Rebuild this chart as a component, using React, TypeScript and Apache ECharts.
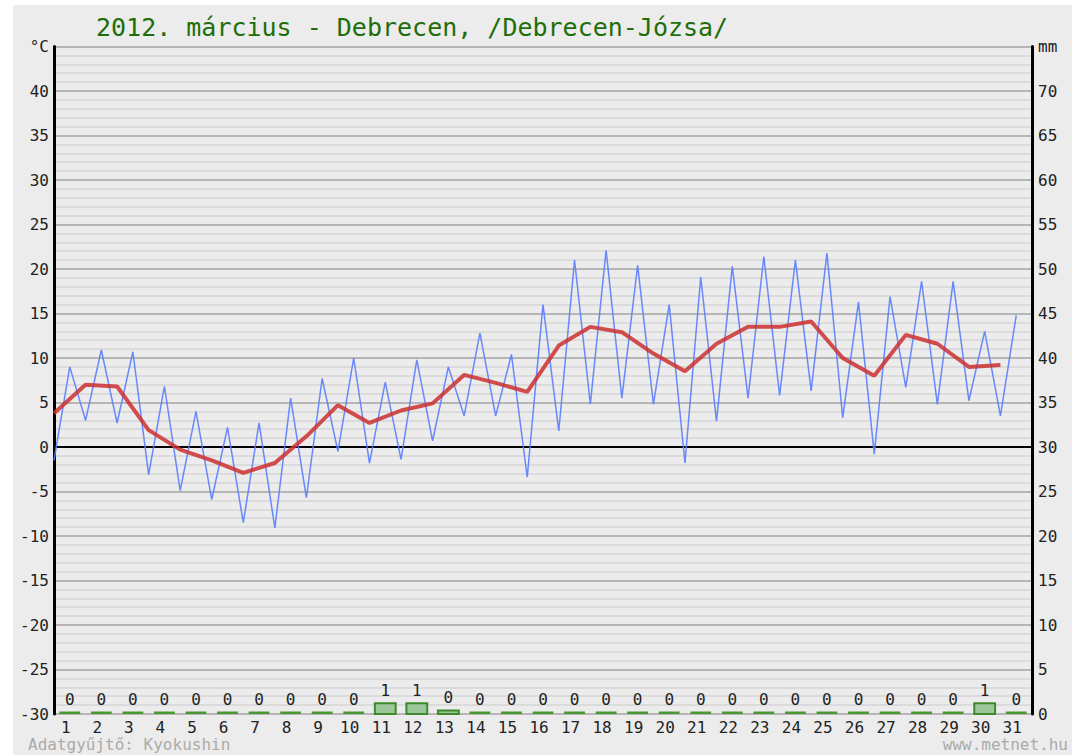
import React, { useEffect, useRef } from "react";
import * as echarts from "echarts";

const dayLabels = ["1","2","3","4","5","6","7","8","9","10","11","12","13","14","15","16","17","18","19","20","21","22","23","24","25","26","27","28","29","30","31"];
// daily minimum (plotted at day start) and maximum (plotted at midday), °C
const dailyMin = [-1.5,3.0,2.7,-3.1,-4.9,-5.9,-8.5,-9.1,-5.7,-0.5,-1.8,-1.4,0.7,3.5,3.5,-3.4,1.8,4.8,5.5,4.8,-1.8,2.9,5.5,5.8,6.3,3.3,-0.8,6.7,4.8,5.2,3.5];
const dailyMax = [9.0,10.9,10.7,6.8,4.0,2.2,2.7,5.5,7.7,10.0,7.3,9.8,9.0,12.8,10.4,16.0,21.0,22.1,20.4,16.0,19.1,20.3,21.4,21.0,21.8,16.3,16.9,18.6,18.6,13.0,14.8];
// daily mean temperature, °C
const dailyMean = [3.8,7.0,6.8,1.9,-0.3,-1.5,-2.9,-1.8,1.2,4.7,2.7,4.1,4.9,8.1,7.2,6.2,11.4,13.5,12.9,10.5,8.5,11.6,13.5,13.5,14.1,10.0,8.0,12.6,11.6,9.0,9.2];
// daily precipitation, mm
const precip = [0,0,0,0,0,0,0,0,0,0,1.2,1.2,0.4,0,0,0,0,0,0,0,0,0,0,0,0,0,0,0,0,1.2,0];

const TITLE = "2012. március - Debrecen, /Debrecen-Józsa/";
const FOOT_LEFT = "Adatgyűjtő: Kyokushin";
const FOOT_RIGHT = "www.metnet.hu";
const MONO = '"DejaVu Sans Mono", monospace';

export default function App() {
  const ref = useRef<HTMLDivElement>(null);
  useEffect(() => {
    if (!ref.current) return;
    const chart = echarts.init(ref.current, null, { renderer: "svg" });
    const minMaxLine: number[][] = [];
    dailyMin.forEach((v, i) => {
      minMaxLine.push([i, v]);
      minMaxLine.push([i + 0.5, dailyMax[i]]);
    });
    const meanLine = dailyMean.map((v, i) => [i, v]);
    const option: any = {
      animation: false,
      backgroundColor: "#ececec",
      grid: { left: 41, right: 40, top: 41.5, bottom: 41 },
      graphic: [
        { type: "text", left: 83, top: 10, style: { text: TITLE, fill: "#1e6e0a", font: `25px ${MONO}` } },
        { type: "text", left: 15, top: 731, style: { text: FOOT_LEFT, fill: "#aaaaaa", font: `16px ${MONO}`, lineHeight: 16 } },
        { type: "text", right: 4, top: 731, style: { text: FOOT_RIGHT, fill: "#aaaaaa", font: `16px ${MONO}`, lineHeight: 16 } },
      ],
      xAxis: [
        { type: "value", min: 0, max: 31, show: false, position: "top" },
        {
          type: "category",
          data: dayLabels,
          position: "bottom",
          boundaryGap: true,
          axisLine: { show: false },
          axisTick: { show: false },
          splitLine: { show: false },
          axisLabel: { interval: 0, color: "#222", fontFamily: MONO, fontSize: 16, lineHeight: 16, margin: 5, padding: [0, 8, 0, 0] },
        },
      ],
      yAxis: [
        {
          type: "value",
          min: -30,
          max: 45,
          interval: 5,
          position: "left",
          axisLine: { show: true, lineStyle: { color: "#000", width: 3 } },
          axisTick: { show: false },
          axisLabel: {
            color: "#222",
            fontFamily: MONO,
            fontSize: 16,
            margin: 5,
            formatter: (v: number) => (v === 45 ? "°C" : String(v)),
          },
          splitLine: { show: true, lineStyle: { color: "#a4a4a4", width: 1.5 } },
          minorTick: { show: false, splitNumber: 5 },
          minorSplitLine: { show: true, lineStyle: { color: "#d6d6d6", width: 1.5 } },
        },
        {
          type: "value",
          min: 0,
          max: 75,
          interval: 5,
          position: "right",
          axisLine: { show: true, lineStyle: { color: "#000", width: 3 } },
          axisTick: { show: false },
          splitLine: { show: false },
          axisLabel: {
            color: "#222",
            fontFamily: MONO,
            fontSize: 16,
            margin: 6,
            formatter: (v: number) => (v === 75 ? "mm" : String(v)),
          },
        },
      ],
      series: [
        {
          type: "custom",
          name: "csapadék",
          xAxisIndex: 1,
          yAxisIndex: 1,
          data: precip.map((v, i) => [i, v]),
          encode: { x: 0, y: 1 },
          z: 3,
          renderItem: (params: any, api: any) => {
            const idx = api.value(0);
            const v = api.value(1);
            const top = api.coord([idx, v]);
            const base = api.coord([idx, 0]);
            const w = api.size([1, 0])[0] * 0.66;
            const h = base[1] - top[1];
            const children: any[] = [];
            if (h >= 2) {
              children.push({
                type: "rect",
                shape: { x: base[0] - w / 2, y: top[1], width: w, height: h },
                style: { fill: "#9cc79a", stroke: "#3d8a2a", lineWidth: 2 },
              });
            } else {
              children.push({
                type: "rect",
                shape: { x: base[0] - w / 2, y: base[1] - 2.5, width: w, height: 2.5 },
                style: { fill: "#4a9832" },
              });
            }
            children.push({
              type: "text",
              x: base[0],
              y: Math.min(top[1], base[1] - 2) - 5,
              style: {
                text: String(Math.round(v)),
                fill: "#222",
                font: `16px ${MONO}`,
                align: "center",
                verticalAlign: "bottom",
              },
            });
            return { type: "group", children };
          },
        },
        {
          type: "line",
          name: "min/max",
          xAxisIndex: 0,
          yAxisIndex: 0,
          data: minMaxLine,
          showSymbol: false,
          symbol: "none",
          z: 4,
          lineStyle: { color: "#5a7dff", width: 1.5, opacity: 0.9 },
          markLine: {
            silent: true,
            symbol: "none",
            label: { show: false },
            lineStyle: { color: "#000", width: 2, type: "solid" },
            data: [{ yAxis: 0 }],
            z: 3,
          },
        },
        {
          type: "line",
          name: "átlag",
          xAxisIndex: 0,
          yAxisIndex: 0,
          data: meanLine,
          showSymbol: false,
          symbol: "none",
          z: 5,
          lineStyle: { color: "#cc3030", width: 4, opacity: 0.85 },
        },
      ],
    };
    chart.setOption(option);
    return () => chart.dispose();
  }, []);
  return (
    <div style={{ position: "absolute", left: 0, top: 0, width: 1082, height: 755, background: "#fff" }}>
      <div ref={ref} style={{ position: "absolute", left: 13, top: 5, width: 1059, height: 750 }} />
    </div>
  );
}
